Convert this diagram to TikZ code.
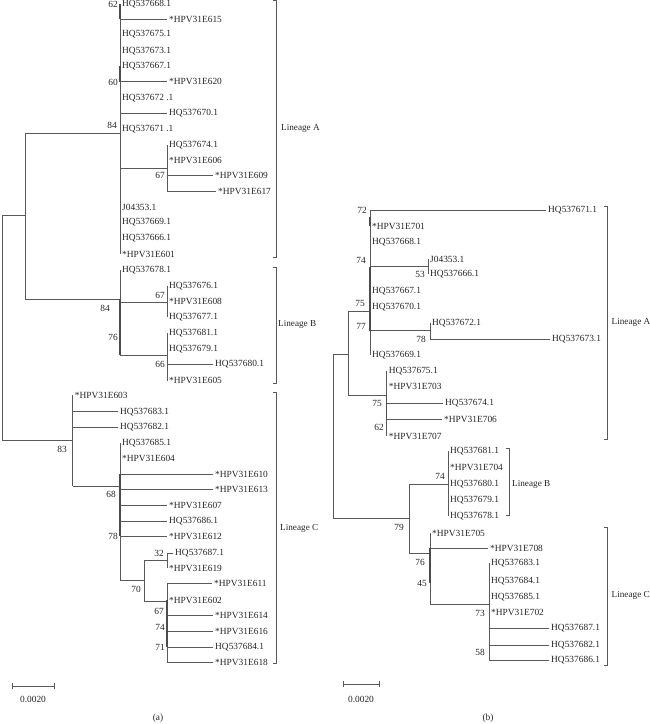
\documentclass[tikz,border=0pt]{standalone}
\usepackage{fontspec}
\setmainfont{Liberation Serif}
\begin{document}
\begin{tikzpicture}[x=1pt,y=-1pt,
  branch/.style={draw=black!65,line width=0.75pt},
  shortbr/.style={draw=black!70,line width=1.3pt},
  leaf/.style={anchor=west,inner sep=2pt,text=black!85,font=\fontsize{9.4}{10}\selectfont},
  boot/.style={anchor=east,inner sep=1pt,text=black!85,font=\fontsize{9.4}{10}\selectfont},
  lineage/.style={anchor=west,inner sep=0pt,text=black!85,font=\fontsize{9.2}{10}\selectfont}]

\useasboundingbox (0,0) rectangle (650,724);

%%%%%%%%%%%%%%%%%%%% tree (a)
\coordinate (aR)   at (2,215.7);   %root
\coordinate (aAB)  at (25,215.7);
\coordinate (aA)   at (120,133);
\coordinate (aA67) at (167,168);
\coordinate (aB)   at (120,299);
\coordinate (aB67) at (167,302);
\coordinate (aB66) at (167,355);
\coordinate (aC)   at (72.7,440);
\coordinate (aC68) at (120,486);
\coordinate (aC70) at (144,580.7);
\coordinate (aC32) at (167,560.7);
\coordinate (aC67) at (167,601);

\foreach \y/\x/\t [count=\i] in {4/120/HQ537668.1, 19.3/167/*HPV31E615, 34/120/HQ537675.1,
    50.7/120/HQ537673.1, 66/120/HQ537667.1, 81.7/167/*HPV31E620, 98/120/HQ537672 .1,
    113/167/HQ537670.1, 128.7/120/HQ537671 .1, 207.3/120/J04353.1, 222.3/120/HQ537669.1,
    238.3/120/HQ537666.1, 254.3/120/*HPV31E601}{
  \node[leaf] (aAl\i) at (\x,\y) {\t};
  \draw[branch] (aA |- aAl\i.west) -- (aAl\i.west);
}
\foreach \y/\x/\t [count=\i] in {145/167/HQ537674.1, 160/167/*HPV31E606, 175/213/*HPV31E609,
    191/216/*HPV31E617}{
  \node[leaf] (aA67l\i) at (\x,\y) {\t};
  \draw[branch] (aA67 |- aA67l\i.west) -- (aA67l\i.west);
}
\node[leaf] (aBl1) at (120,270) {HQ537678.1};
\foreach \y/\x/\t [count=\i] in {286/167/HQ537676.1, 301/167/*HPV31E608, 317/167/HQ537677.1}{
  \node[leaf] (aB67l\i) at (\x,\y) {\t};
}
\foreach \y/\x/\t [count=\i] in {333/167/HQ537681.1, 349/167/HQ537679.1, 364/213/HQ537680.1,
    380.7/167/*HPV31E605}{
  \node[leaf] (aB66l\i) at (\x,\y) {\t};
  \draw[branch] (aB66 |- aB66l\i.west) -- (aB66l\i.west);
}
\foreach \y/\x/\t [count=\i] in {395/72.7/*HPV31E603, 411.7/118/HQ537683.1, 427/118/HQ537682.1}{
  \node[leaf] (aCl\i) at (\x,\y) {\t};
  \draw[branch] (aC |- aCl\i.west) -- (aCl\i.west);
}
\foreach \y/\x/\t [count=\i] in {443/120/HQ537685.1, 458.7/120/*HPV31E604, 474/213/*HPV31E610,
    489/213/*HPV31E613, 505/167/*HPV31E607, 521/167/HQ537686.1, 536/167/*HPV31E612}{
  \node[leaf] (aC68l\i) at (\x,\y) {\t};
  \draw[branch] (aC68 |- aC68l\i.west) -- (aC68l\i.west);
}
\foreach \y/\x/\t [count=\i] in {553/173/HQ537687.1, 568/167/*HPV31E619}{
  \node[leaf] (aC32l\i) at (\x,\y) {\t};
  \draw[branch] (aC32 |- aC32l\i.west) -- (aC32l\i.west);
}
\foreach \y/\x/\t [count=\i] in {583/212/*HPV31E611, 600/167/*HPV31E602, 615.7/213/*HPV31E614,
    631.7/213/*HPV31E616, 647/213/HQ537684.1, 662.7/213/*HPV31E618}{
  \node[leaf] (aC67l\i) at (\x,\y) {\t};
  \draw[branch] (aC67 |- aC67l\i.west) -- (aC67l\i.west);
}

% vertical lines
\draw[branch] (aR |- aAB) -- (aR |- aC);
\draw[branch] (aAB |- aA) -- (aAB |- aB);
\draw[branch] (aA |- aAl1.west) -- (aA |- aAl13.west);
\draw[branch] (aA67 |- aA67l1.west) -- (aA67 |- aA67l4.west);
\draw[branch] (aB |- aBl1.west) -- (aB |- aB66);
\draw[branch] (aB67 |- aB67l1.west) -- (aB67 |- aB67l3.west);
\draw[branch] (aB66 |- aB66l1.west) -- (aB66 |- aB66l4.west);
\draw[branch] (aC |- aCl1.west) -- (aC |- aC68);
\draw[branch] (aC68 |- aC68l1.west) -- (aC68 |- aC70);
\draw[branch] (aC70 |- aC32) -- (aC70 |- aC67);
\draw[branch] (aC32 |- aC32l1.west) -- (aC32 |- aC32l2.west);
\draw[branch] (aC67 |- aC67l1.west) -- (aC67 |- aC67l6.west);
% horizontal lines
\draw[branch] (aR |- aAB) -- (aAB);
\draw[branch] (aAB |- aA) -- (aA);
\draw[branch] (aA |- aA67) -- (aA67);
\draw[branch] (aAB |- aB) -- (aB);
\draw[branch] (aB |- aB67) -- (aB67);
\draw[branch] (aB |- aB66) -- (aB66);
\draw[branch] (aR |- aC) -- (aC);
\draw[branch] (aC |- aC68) -- (aC68);
\draw[branch] (aC68 |- aC70) -- (aC70);
\draw[branch] (aC70 |- aC32) -- (aC32);
\draw[branch] (aC70 |- aC67) -- (aC67);
% short inner branches
\draw[shortbr] (aA |- aAl1.west) -- (aA |- aAl2.west);
\draw[shortbr] (aA |- aAl5.west) -- (aA |- aAl6.west);
\draw[shortbr] (aB) -- (aB |- aB66);
\draw[shortbr] (aC68 |- aC68l3.west) -- (aC68 |- aC68l7.west);
\draw[shortbr] (aC67 |- aC67l2.west) -- (aC67 |- aC67l5.west);

\foreach \x/\y/\v [count=\i] in {119/4/62, 119/82/60, 118/125/84, 166/175/67, 111/308/84,
    119/337/76, 166/295/67, 166/364/66, 68/449/83, 117/494/68, 119/536/78, 165/553/32,
    142/589/70, 165/611/67, 166/627/74, 166/647/71}{
  \node[boot] (aS\i) at (\x,\y) {\v};
}

\draw[branch] (273,0.8) -- (276,0.8) -- (276,257) -- (273,257); %lineage A
\draw[branch] (273,267) -- (276,267) -- (276,383) -- (273,383); %lineage B
\draw[branch] (273,392) -- (276,392) -- (276,663) -- (273,663); %lineage C
\node[lineage] (aLinA) at (281,128) {Lineage A};
\node[lineage] (aLinB) at (278,324) {Lineage B};
\node[lineage] (aLinC) at (280,528) {Lineage C};

\draw[branch] (12,683) -- (12,689) (12,686) -- (54,686) (54,683) -- (54,689); %scale bar
\node[leaf,anchor=center] (aScale) at (33,699) {0.0020};
\node[leaf,anchor=center] (aCap) at (158,718) {(a)};

%%%%%%%%%%%%%%%%%%%% tree (b)
\coordinate (bR)   at (333,354);   %root
\coordinate (bA)   at (348,354);
\coordinate (bA1)  at (370,311.7);
\coordinate (bA53) at (428,266.7);
\coordinate (bA78) at (430,330.7);
\coordinate (bA2)  at (386.7,395);
\coordinate (bBC)  at (409,518);
\coordinate (bB)   at (448,484);
\coordinate (bC)   at (430,553);
\coordinate (bC73) at (489,604);

\foreach \y/\x/\t [count=\i] in {210/546/HQ537671.1, 226/370/*HPV31E701, 241.7/370/HQ537668.1,
    291/370/HQ537667.1, 306.7/370/HQ537670.1, 355/370/HQ537669.1}{
  \node[leaf] (bA1l\i) at (\x,\y) {\t};
  \draw[branch] (bA1 |- bA1l\i.west) -- (bA1l\i.west);
}
\node[leaf] (bA53l1) at (428,259) {J04353.1};
\node[leaf] (bA53l2) at (428,274) {HQ537666.1};
\node[leaf] (bA78l1) at (430,323) {HQ537672.1};
\node[leaf] (bA78l2) at (550,339) {HQ537673.1};
\draw[branch] (bA78 |- bA78l2.west) -- (bA78l2.west);
\foreach \y/\x/\t [count=\i] in {371/386.7/HQ537675.1, 386.7/386.7/*HPV31E703, 403/443/HQ537674.1,
    419/442/*HPV31E706, 436/386.7/*HPV31E707}{
  \node[leaf] (bA2l\i) at (\x,\y) {\t};
  \draw[branch] (bA2 |- bA2l\i.west) -- (bA2l\i.west);
}
\foreach \y/\t [count=\i] in {451/HQ537681.1, 467.3/*HPV31E704, 484/HQ537680.1,
    499.7/HQ537679.1, 515.7/HQ537678.1}{
  \node[leaf] (bBl\i) at (448,\y) {\t};
}
\foreach \y/\x/\t [count=\i] in {533/430/*HPV31E705, 548/488/*HPV31E708}{
  \node[leaf] (bCl\i) at (\x,\y) {\t};
  \draw[branch] (bC |- bCl\i.west) -- (bCl\i.west);
}
\foreach \y/\x/\t [count=\i] in {563/489/HQ537683.1, 580.7/489/HQ537684.1, 596.7/489/HQ537685.1,
    612.7/489/*HPV31E702, 628/549/HQ537687.1, 645/549/HQ537682.1, 660/549/HQ537686.1}{
  \node[leaf] (bC73l\i) at (\x,\y) {\t};
  \draw[branch] (bC73 |- bC73l\i.west) -- (bC73l\i.west);
}

% vertical lines
\draw[branch] (bR) -- (bR |- bBC);
\draw[branch] (bA |- bA1) -- (bA |- bA2);
\draw[branch] (bA1 |- bA1l1.west) -- (bA1 |- bA1l6.west);
\draw[branch] (bA53 |- bA53l1.west) -- (bA53 |- bA53l2.west);
\draw[branch] (bA78 |- bA78l1.west) -- (bA78 |- bA78l2.west);
\draw[branch] (bA2 |- bA2l1.west) -- (bA2 |- bA2l5.west);
\draw[branch] (bBC |- bB) -- (bBC |- bC);
\draw[branch] (bB |- bBl1.west) -- (bB |- bBl5.west);
\draw[branch] (bC |- bCl1.west) -- (bC |- bC73);
\draw[branch] (bC73 |- bC73l1.west) -- (bC73 |- bC73l7.west);
% horizontal lines
\draw[branch] (bR) -- (bA);
\draw[branch] (bR |- bBC) -- (bBC);
\draw[branch] (bA |- bA1) -- (bA1);
\draw[branch] (bA |- bA2) -- (bA2);
\draw[branch] (bA1 |- bA53) -- (bA53);
\draw[branch] (bA1 |- bA78) -- (bA78);
\draw[branch] (bBC |- bB) -- (bB);
\draw[branch] (bBC |- bC) -- (bC);
\draw[branch] (bC |- bC73) -- (bC73);
% short inner branches
\draw[shortbr] (bA1 |- bA1l2.west) -- ++(0,-9);
\draw[shortbr] (bA1 |- bA53) -- (bA1 |- bA78);
\draw[shortbr] (bA2) -- (bA2 |- bA2l4.west);
\draw[shortbr] (bC |- bCl2.west) -- ++(0,35);

\foreach \x/\y/\v [count=\i] in {368/210/72, 367/260/74, 426/274/53, 366/303/75, 367/326/77,
    427/339/78, 383/403/75, 385/427/62, 446/476/74, 405/527/79, 426/562/76, 428/583/45,
    486/613/73, 486/652/58}{
  \node[boot] (bS\i) at (\x,\y) {\v};
}

\draw[branch] (604,206.7) -- (607,206.7) -- (607,439) -- (604,439); %lineage A
\draw[branch] (506,448) -- (509,448) -- (509,515.7) -- (506,515.7); %lineage B
\draw[branch] (604,527) -- (607,527) -- (607,665) -- (604,665); %lineage C
\node[lineage] (bLinA) at (611.5,322) {Lineage A};
\node[lineage] (bLinB) at (512,484) {Lineage B};
\node[lineage] (bLinC) at (611.5,595) {Lineage C};

\draw[branch] (343,681) -- (343,687) (343,684) -- (379,684) (379,681) -- (379,687); %scale bar
\node[leaf,anchor=center] (bScale) at (361,699) {0.0020};
\node[leaf,anchor=center] (bCap) at (488,718) {(b)};

\end{tikzpicture}
\end{document}
